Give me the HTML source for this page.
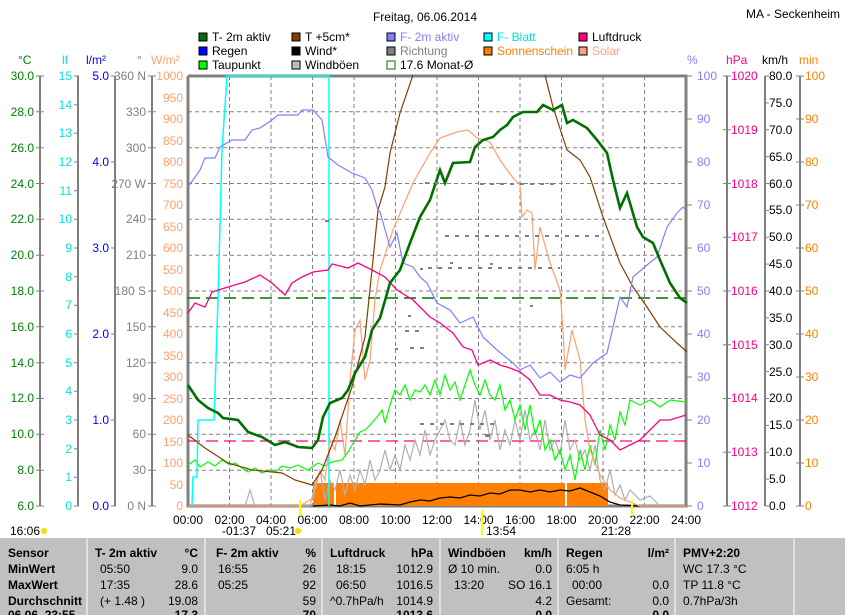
<!DOCTYPE html>
<html><head><meta charset="utf-8"><style>
body{margin:0;background:#fff;width:845px;height:615px;overflow:hidden;font-family:"Liberation Sans",sans-serif}
svg{display:block}
text{font-family:"Liberation Sans",sans-serif;font-size:12px}
</style></head><body>
<svg width="845" height="615" viewBox="0 0 845 615">
<text x="425" y="21" font-size="16" text-anchor="middle" fill="#000">Freitag, 06.06.2014</text>
<text x="840" y="18" text-anchor="end" font-size="11">MA - Seckenheim</text>
<g font-size="11">
<rect x="199" y="33" width="8" height="8" fill="#007000" stroke="#000"/><text x="212" y="41">T- 2m aktiv</text>
<rect x="199" y="47" width="8" height="8" fill="#0000ff" stroke="#000"/><text x="212" y="55">Regen</text>
<rect x="199" y="61" width="8" height="8" fill="#00ff00" stroke="#000"/><text x="212" y="69">Taupunkt</text>
<rect x="292" y="33" width="8" height="8" fill="#804000" stroke="#000"/><text x="305" y="41">T +5cm*</text>
<rect x="292" y="47" width="8" height="8" fill="#000" stroke="#000"/><text x="305" y="55">Wind*</text>
<rect x="292" y="61" width="8" height="8" fill="#c0c0c0" stroke="#000"/><text x="305" y="69">Windböen</text>
<rect x="387" y="33" width="8" height="8" fill="#8080ff" stroke="#000"/><text x="400" y="41" fill="#8080ff">F- 2m aktiv</text>
<rect x="387" y="47" width="8" height="8" fill="#808080" stroke="#000"/><text x="400" y="55" fill="#808080">Richtung</text>
<rect x="387" y="61" width="8" height="8" fill="#fff" stroke="#007000"/><text x="400" y="69">17.6 Monat-Ø</text>
<rect x="484" y="33" width="8" height="8" fill="#00ffff" stroke="#000"/><text x="497" y="41" fill="#00e0e0">F- Blatt</text>
<rect x="484" y="47" width="8" height="8" fill="#ff8000" stroke="#000"/><text x="497" y="55" fill="#ff8000">Sonnenschein</text>
<rect x="579" y="33" width="8" height="8" fill="#ff0080" stroke="#000"/><text x="592" y="41">Luftdruck</text>
<rect x="579" y="47" width="8" height="8" fill="#ffa080" stroke="#000"/><text x="592" y="55" fill="#ffa080">Solar</text>
</g>
<text x="18" y="64" fill="#008000">°C</text>
<text x="62" y="64" fill="#00e0e0">lf</text>
<text x="86" y="64" fill="#0000ff">l/m²</text>
<text x="137" y="64" fill="#808080">°</text>
<text x="151" y="64" fill="#ffa070">W/m²</text>
<text x="687" y="64" fill="#8080ff">%</text>
<text x="726" y="64" fill="#ff0080">hPa</text>
<text x="762" y="64" fill="#000">km/h</text>
<text x="799" y="64" fill="#ff8000">min</text>
<g stroke="#808080" stroke-dasharray="4,3" stroke-width="1">
<path d="M188 111.8H686M188 147.7H686M188 183.5H686M188 219.3H686M188 255.2H686M188 291H686M188 326.8H686M188 362.7H686M188 398.5H686M188 434.3H686M188 470.2H686"/>
<path d="M229.5 76V506M271 76V506M312.5 76V506M354 76V506M395.5 76V506M437 76V506M478.5 76V506M520 76V506M561.5 76V506M603 76V506M644.5 76V506"/>
</g>
<g stroke="#808080" stroke-width="2" fill="none">
<path d="M40 76V506M78 76V506M115 76V506M152 76V506M727 76V506M765 76V506M800 76V506"/>
</g>
<g stroke="#808080" stroke-width="1">
<path d="M36 76h8M36 111.8h8M36 147.7h8M36 183.5h8M36 219.3h8M36 255.2h8M36 291h8M36 326.8h8M36 362.7h8M36 398.5h8M36 434.3h8M36 470.2h8M36 506h8"/>
<path d="M148 76h8M148 111.8h8M148 147.7h8M148 183.5h8M148 219.3h8M148 255.2h8M148 291h8M148 326.8h8M148 362.7h8M148 398.5h8M148 434.3h8M148 470.2h8M148 506h8"/>
<path d="M74 76h5M74 104.7h5M74 133.3h5M74 162h5M74 190.7h5M74 219.3h5M74 248h5M74 276.7h5M74 305.3h5M74 334h5M74 362.7h5M74 391.3h5M74 420h5M74 448.7h5M74 477.3h5M74 506h5"/>
<path d="M111 76h5M111 162h5M111 248h5M111 334h5M111 420h5M111 506h5"/>
<path d="M686 76h6M686 119h6M686 162h6M686 205h6M686 248h6M686 291h6M686 334h6M686 377h6M686 420h6M686 463h6M686 506h6"/>
<path d="M723 76h8M723 129.75h8M723 183.5h8M723 237.25h8M723 291h8M723 344.75h8M723 398.5h8M723 452.25h8M723 506h8"/>
<path d="M765 76h4M765 102.9h4M765 129.75h4M765 156.6h4M765 183.5h4M765 210.4h4M765 237.25h4M765 264.1h4M765 291h4M765 317.9h4M765 344.75h4M765 371.6h4M765 398.5h4M765 425.4h4M765 452.25h4M765 479.1h4M765 506h4"/>
<path d="M796 76h8M796 119h8M796 162h8M796 205h8M796 248h8M796 291h8M796 334h8M796 377h8M796 420h8M796 463h8M796 506h8"/>
</g>
<path d="M188 76V506H686V76H188" stroke="#808080" stroke-width="3" fill="none"/>
<g fill="#008000" text-anchor="end">
<text x="34" y="80">30.0</text><text x="34" y="116">28.0</text><text x="34" y="152">26.0</text><text x="34" y="188">24.0</text><text x="34" y="223">22.0</text><text x="34" y="259">20.0</text><text x="34" y="295">18.0</text><text x="34" y="331">16.0</text><text x="34" y="367">14.0</text><text x="34" y="402">12.0</text><text x="34" y="438">10.0</text><text x="34" y="474">8.0</text><text x="34" y="510">6.0</text>
</g>
<g fill="#00e0e0" text-anchor="end">
<text x="72" y="80">15</text><text x="72" y="109">14</text><text x="72" y="137">13</text><text x="72" y="166">12</text><text x="72" y="195">11</text><text x="72" y="223">10</text><text x="72" y="252">9</text><text x="72" y="281">8</text><text x="72" y="309">7</text><text x="72" y="338">6</text><text x="72" y="367">5</text><text x="72" y="395">4</text><text x="72" y="424">3</text><text x="72" y="453">2</text><text x="72" y="481">1</text><text x="72" y="510">0</text>
</g>
<g fill="#0000ff" text-anchor="end">
<text x="109" y="80">5.0</text><text x="109" y="166">4.0</text><text x="109" y="252">3.0</text><text x="109" y="338">2.0</text><text x="109" y="424">1.0</text><text x="109" y="510">0.0</text>
</g>
<g fill="#808080" text-anchor="end">
<text x="146" y="80">360 N</text><text x="146" y="116">330</text><text x="146" y="152">300</text><text x="146" y="188">270 W</text><text x="146" y="223">240</text><text x="146" y="259">210</text><text x="146" y="295">180 S</text><text x="146" y="331">150</text><text x="146" y="367">120</text><text x="146" y="402">90</text><text x="146" y="438">60</text><text x="146" y="474">30</text><text x="146" y="510">0 N</text>
</g>
<g fill="#ffa070" text-anchor="end">
<text x="183" y="80">1000</text><text x="183" y="102">950</text><text x="183" y="123">900</text><text x="183" y="145">850</text><text x="183" y="166">800</text><text x="183" y="188">750</text><text x="183" y="209">700</text><text x="183" y="231">650</text><text x="183" y="252">600</text><text x="183" y="274">550</text><text x="183" y="295">500</text><text x="183" y="317">450</text><text x="183" y="338">400</text><text x="183" y="360">350</text><text x="183" y="381">300</text><text x="183" y="403">250</text><text x="183" y="424">200</text><text x="183" y="446">150</text><text x="183" y="467">100</text><text x="183" y="489">50</text><text x="183" y="510">0</text>
</g>
<g fill="#8080ff">
<text x="697" y="80">100</text><text x="697" y="123">90</text><text x="697" y="166">80</text><text x="697" y="209">70</text><text x="697" y="252">60</text><text x="697" y="295">50</text><text x="697" y="338">40</text><text x="697" y="381">30</text><text x="697" y="424">20</text><text x="697" y="467">10</text><text x="697" y="510">0</text>
</g>
<g fill="#ff0080">
<text x="731" y="80">1020</text><text x="731" y="134">1019</text><text x="731" y="188">1018</text><text x="731" y="241">1017</text><text x="731" y="295">1016</text><text x="731" y="349">1015</text><text x="731" y="402">1014</text><text x="731" y="456">1013</text><text x="731" y="510">1012</text>
</g>
<g fill="#000">
<text x="769" y="80">80.0</text><text x="769" y="107">75.0</text><text x="769" y="134">70.0</text><text x="769" y="161">65.0</text><text x="769" y="188">60.0</text><text x="769" y="214">55.0</text><text x="769" y="241">50.0</text><text x="769" y="268">45.0</text><text x="769" y="295">40.0</text><text x="769" y="322">35.0</text><text x="769" y="349">30.0</text><text x="769" y="376">25.0</text><text x="769" y="402">20.0</text><text x="769" y="429">15.0</text><text x="769" y="456">10.0</text><text x="769" y="483">5.0</text><text x="769" y="510">0.0</text>
</g>
<g fill="#ff8000">
<text x="805" y="80">100</text><text x="805" y="123">90</text><text x="805" y="166">80</text><text x="805" y="209">70</text><text x="805" y="252">60</text><text x="805" y="295">50</text><text x="805" y="338">40</text><text x="805" y="381">30</text><text x="805" y="424">20</text><text x="805" y="467">10</text><text x="805" y="510">0</text>
</g>
<rect x="313" y="483" width="295" height="23" fill="#ff8000"/>
<rect x="334" y="483" width="2" height="23" fill="#fff"/>
<rect x="565" y="483" width="2" height="23" fill="#fff"/>
<path d="M188 298H686" stroke="#007000" stroke-width="1.5" stroke-dasharray="12,6"/>
<path d="M188 441H686" stroke="#ff0080" stroke-width="1.2" stroke-dasharray="12,6"/>
<polyline fill="none" stroke="#b0b0b0" stroke-width="1.2" points="245,506 250,490 255,506 300,506 310,506 315,485 320,470 325,500 330,480 335,490 340,470 345,495 350,475 355,490 360,470 365,485 370,460 375,480 380,470 385,450 390,470 395,455 400,470 405,445 410,460 415,440 420,455 425,430 430,455 435,440 440,430 445,420 450,440 455,445 460,420 465,445 470,430 475,400 480,430 485,410 490,440 495,420 500,450 505,430 510,445 515,420 520,440 525,410 530,440 535,430 540,450 545,420 550,450 555,440 560,455 565,420 570,450 575,440 580,460 585,450 590,470 595,445 600,480 605,490 610,470 615,495 620,485 625,500 630,490 640,500 650,496 660,506"/>
<polyline fill="none" stroke="#00ff00" stroke-width="1.2" points="188,465 195,460 200,467 208,462 215,466 222,460 230,465 235,463 242,468 248,472 255,468 262,473 270,470 275,472 282,466 290,468 298,465 308,470 318,463 325,466 332,462 342,460 348,452 355,440 360,432 365,430 370,425 377,417 382,410 385,423 390,405 395,390 400,395 405,385 410,400 415,390 420,392 425,385 430,395 435,380 440,395 445,375 450,390 455,382 460,400 465,385 470,370 475,385 480,395 485,380 490,395 495,400 500,385 505,410 510,400 515,420 520,405 525,430 530,405 535,435 540,420 545,450 550,440 555,460 560,450 565,470 570,455 575,480 580,450 585,470 590,445 595,465 600,430 605,450 610,425 615,440 620,412 625,425 630,400 640,405 650,400 660,407 670,400 686,402"/>
<polyline fill="none" stroke="#000" stroke-width="1.3" points="313,506 330,505 340,506 350,503 360,506 380,504 400,505 410,502 420,500 430,501 440,498 450,497 460,498 470,495 480,496 490,493 500,494 510,490 520,490 530,492 540,490 550,492 560,490 570,491 580,488 590,492 600,496 610,502 620,505 640,506"/>
<polyline fill="none" stroke="#00ffff" stroke-width="1.5" points="192,506 193,477 197,477 198,420 214,420 218,300 222,150 227,76 329,76 329,506"/>
<polyline fill="none" stroke="#ffa070" stroke-width="1.2" points="188,506 300,506 313,498 320,470 325,480 330,440 335,450 340,420 345,455 350,380 355,330 360,320 365,380 370,360 375,300 380,270 393,230 413,183 430,153 440,138 457,132 468,130 477,138 490,142 500,160 513,178 520,185 522,217 527,210 532,213 535,270 540,227 550,263 560,290 563,330 565,370 572,330 580,360 585,420 590,450 600,475 610,490 620,498 640,506 686,506"/>
<polyline fill="none" stroke="#804000" stroke-width="1.2" points="188,435 205,448 228,463 252,470 282,473 295,480 312,485 322,470 335,437 352,387 365,337 372,270 378,210 385,187 390,153 400,113 413,75"/>
<polyline fill="none" stroke="#804000" stroke-width="1.2" points="545,75 553,107 567,150 580,160 590,177 603,217 620,263 633,287 647,307 660,327 677,343 687,352"/>
<polyline fill="none" stroke="#8080ff" stroke-width="1.2" points="188,187 200,170 205,158 215,158 220,147 232,140 245,140 252,130 260,128 272,120 278,115 298,115 302,110 313,110 322,120 328,157 338,165 352,173 365,178 372,190 378,210 380,212 390,247 397,233 403,263 413,267 420,277 427,283 437,303 450,310 460,323 473,317 483,337 497,350 513,363 520,370 530,365 540,378 550,372 560,382 570,375 580,378 593,363 607,353 620,297 627,307 633,277 647,265 657,257 667,227 677,213 683,207 686,210"/>
<polyline fill="none" stroke="#ff0080" stroke-width="1.3" points="188,313 195,303 205,307 212,292 228,287 245,282 260,275 272,283 285,295 292,283 302,277 313,272 328,270 332,264 348,268 358,263 372,270 385,277 397,290 413,300 430,317 440,323 453,333 463,347 472,350 478,365 490,360 500,365 510,368 520,372 530,380 540,395 550,395 560,400 570,402 580,405 590,415 600,435 610,440 620,450 630,445 640,440 650,430 660,420 670,420 686,415"/>
<polyline fill="none" stroke="#007000" stroke-width="2.6" points="188,385 198,400 208,408 218,413 223,418 238,420 248,432 262,437 275,445 285,442 298,447 312,448 318,440 323,417 330,403 342,398 348,390 355,373 365,357 372,330 380,318 390,283 400,270 410,243 420,217 430,200 440,170 445,183 453,163 470,162 475,147 483,140 493,137 500,130 507,125 513,117 523,112 537,112 543,105 553,110 562,105 567,123 573,120 587,128 597,140 607,153 613,180 620,208 627,193 637,227 643,237 653,243 660,260 670,283 680,298 687,303"/>
<g stroke="#808080" stroke-width="2" stroke-dasharray="4,6">
<path d="M480 184H555M445 236H600M425 183H440M428 268H560M405 331H420M410 348H425M420 424H500"/>
</g>
<g fill="#808080">
<rect x="325" y="220" width="4" height="2"/><rect x="395" y="348" width="3" height="2"/><rect x="420" y="268" width="3" height="2"/><rect x="408" y="315" width="3" height="2"/><rect x="450" y="262" width="3" height="2"/><rect x="490" y="263" width="3" height="2"/><rect x="530" y="305" width="3" height="2"/><rect x="485" y="434" width="5" height="3"/>
</g>
<g font-size="12" text-anchor="middle">
<text x="188" y="524">00:00</text><text x="229.5" y="524">02:00</text><text x="271" y="524">04:00</text><text x="312.5" y="524">06:00</text><text x="354" y="524">08:00</text><text x="395.5" y="524">10:00</text><text x="437" y="524">12:00</text><text x="478.5" y="524">14:00</text><text x="520" y="524">16:00</text><text x="561.5" y="524">18:00</text><text x="603" y="524">20:00</text><text x="644.5" y="524">22:00</text><text x="686" y="524">24:00</text>
</g>
<g font-size="12">
<text x="10" y="535">16:06</text><text x="222" y="535">-01:37</text><text x="266" y="535">05:21</text><text x="486" y="535">13:54</text><text x="601" y="535">21:28</text>
</g>
<circle cx="44" cy="531" r="3" fill="#ffd800"/><circle cx="298" cy="531" r="3" fill="#ffd800"/>
<path d="M300 500V516M632 500V516M482 510V535" stroke="#ffff00" stroke-width="2"/>
<rect x="0" y="538" width="845" height="77" fill="#c0c0c0"/>
<path d="M87 538V615M205 538V615M322 538V615M440 538V615M558 538V615M675 538V615M794 538V615" stroke="#fff" stroke-width="1"/>
<g font-size="12" fill="#000">
<g font-weight="bold"><text x="8" y="557">Sensor</text><text x="8" y="573">MinWert</text><text x="8" y="589">MaxWert</text><text x="8" y="605">Durchschnitt</text><text x="8" y="619">06.06. 23:55</text>
<text x="95" y="557">T- 2m aktiv</text><text x="198" y="557" text-anchor="end">°C</text>
<text x="216" y="557">F- 2m aktiv</text><text x="316" y="557" text-anchor="end">%</text>
<text x="330" y="557">Luftdruck</text><text x="433" y="557" text-anchor="end">hPa</text>
<text x="448" y="557">Windböen</text><text x="552" y="557" text-anchor="end">km/h</text>
<text x="566" y="557">Regen</text><text x="669" y="557" text-anchor="end">l/m²</text>
<text x="683" y="557">PMV+2:20</text>
<text x="198" y="619" text-anchor="end">17.3</text><text x="316" y="619" text-anchor="end">70</text><text x="433" y="619" text-anchor="end">1013.6</text><text x="552" y="619" text-anchor="end">0.0</text><text x="669" y="619" text-anchor="end">0.0</text></g>
<text x="100" y="573">05:50</text><text x="198" y="573" text-anchor="end">9.0</text>
<text x="100" y="589">17:35</text><text x="198" y="589" text-anchor="end">28.6</text>
<text x="100" y="605">(+ 1.48 )</text><text x="198" y="605" text-anchor="end">19.08</text>
<text x="218" y="573">16:55</text><text x="316" y="573" text-anchor="end">26</text>
<text x="218" y="589">05:25</text><text x="316" y="589" text-anchor="end">92</text>
<text x="316" y="605" text-anchor="end">59</text>
<text x="336" y="573">18:15</text><text x="433" y="573" text-anchor="end">1012.9</text>
<text x="336" y="589">06:50</text><text x="433" y="589" text-anchor="end">1016.5</text>
<text x="330" y="605">^0.7hPa/h</text><text x="433" y="605" text-anchor="end">1014.9</text>
<text x="448" y="573">Ø 10 min.</text><text x="552" y="573" text-anchor="end">0.0</text>
<text x="454" y="589">13:20</text><text x="552" y="589" text-anchor="end">SO 16.1</text>
<text x="552" y="605" text-anchor="end">4.2</text>
<text x="566" y="573">6:05 h</text>
<text x="572" y="589">00:00</text><text x="669" y="589" text-anchor="end">0.0</text>
<text x="566" y="605">Gesamt:</text><text x="669" y="605" text-anchor="end">0.0</text>
<text x="683" y="573">WC 17.3 °C</text><text x="683" y="589">TP 11.8 °C</text><text x="683" y="605">0.7hPa/3h</text>
</g>
</svg>
</body></html>
